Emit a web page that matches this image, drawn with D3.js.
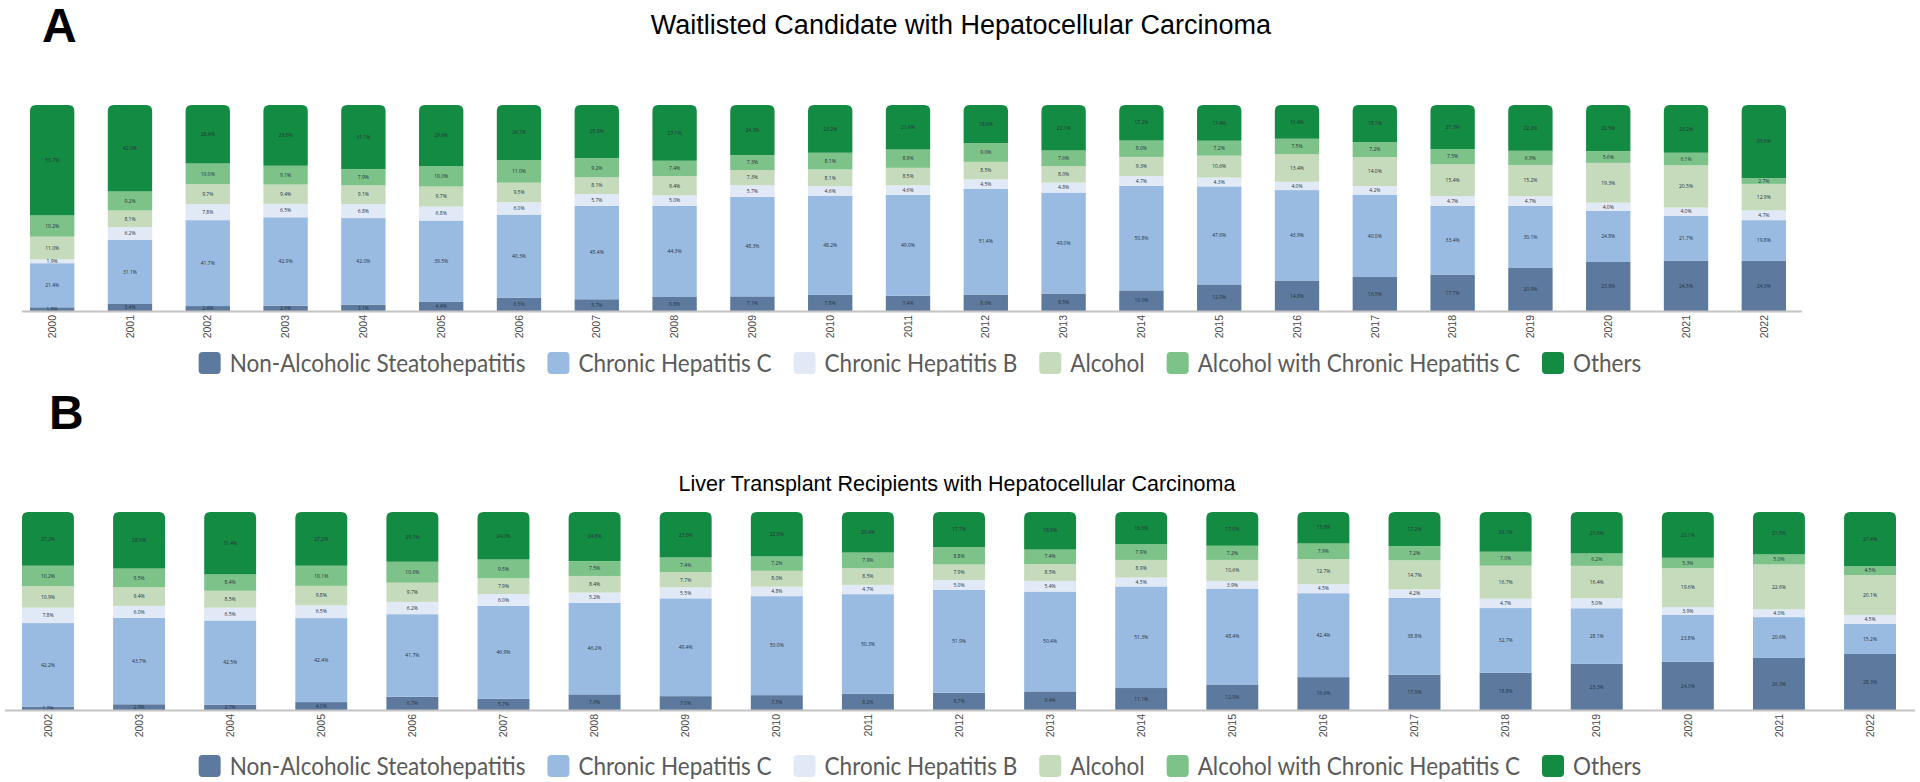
<!DOCTYPE html>
<html>
<head>
<meta charset="utf-8">
<script src="https://cdn.jsdelivr.net/npm/d3@7"></script>
<style>
  body { margin: 0; background: #fff; }
  svg { display: block; }
</style>
</head>
<body>
<div id="chart"></div>
<script>

// stacking order, bottom to top
var seriesNames = ["Non-Alcoholic Steatohepatitis", "Chronic Hepatitis C", "Chronic Hepatitis B",
    "Alcohol", "Alcohol with Chronic Hepatitis C", "Others"];
var seriesColors = ["#5d7a9e", "#99bbe1", "#e1e9f6", "#c5dbbc", "#7cc289", "#148b42"];

// Panel A - waitlisted candidates (%)
var waitYears = ["2000", "2001", "2002", "2003", "2004", "2005", "2006", "2007", "2008", "2009", "2010",
    "2011", "2012", "2013", "2014", "2015", "2016", "2017", "2018", "2019", "2020", "2021", "2022"];
var waitNash   = [1.8, 3.4, 2.4, 2.6, 3.1, 4.4, 6.5, 5.7, 6.8, 7.1, 7.8, 7.4, 8.0, 8.5, 10.0, 12.9, 14.8, 16.5, 17.7, 20.9, 23.8, 24.5, 24.3];
var waitHcv    = [21.4, 31.1, 41.7, 42.9, 42.0, 39.5, 40.3, 45.4, 44.3, 48.3, 48.2, 49.0, 51.4, 49.0, 50.8, 47.6, 43.9, 40.0, 33.4, 30.1, 24.8, 21.7, 19.8];
var waitHbv    = [1.9, 6.2, 7.8, 6.5, 6.8, 6.8, 6.0, 5.7, 5.0, 5.7, 4.6, 4.6, 4.5, 4.8, 4.7, 4.3, 4.0, 4.2, 4.7, 4.7, 4.0, 4.0, 4.7];
var waitAlc    = [11.0, 8.1, 9.7, 9.4, 9.1, 9.7, 9.5, 8.1, 9.4, 7.3, 8.1, 8.5, 8.5, 8.0, 9.3, 10.6, 13.4, 14.0, 15.4, 15.2, 19.3, 20.5, 12.9];
var waitAlcHcv = [10.2, 9.2, 10.0, 9.1, 7.9, 10.0, 11.0, 9.2, 7.4, 7.3, 8.1, 8.9, 9.0, 7.6, 8.0, 7.2, 7.5, 7.2, 7.5, 6.9, 5.6, 6.1, 2.7];
var waitOthers = [53.7, 42.0, 28.4, 29.5, 31.1, 29.6, 26.7, 25.9, 27.1, 24.3, 23.2, 21.6, 18.6, 22.1, 17.2, 17.4, 16.4, 18.1, 21.3, 22.2, 22.5, 23.2, 35.6];

// Panel B - transplant recipients (%)
var recipYears = ["2002", "2003", "2004", "2005", "2006", "2007", "2008", "2009", "2010", "2011", "2012",
    "2013", "2014", "2015", "2016", "2017", "2018", "2019", "2020", "2021", "2022"];
var recipNash   = [1.7, 2.9, 2.7, 4.0, 6.7, 5.7, 7.9, 7.0, 7.5, 8.2, 8.7, 9.4, 11.1, 12.9, 16.6, 17.9, 18.8, 23.3, 24.3, 26.3, 28.3];
var recipHcv    = [42.2, 43.7, 42.5, 42.4, 41.7, 46.9, 46.2, 49.4, 50.0, 50.3, 51.9, 50.4, 51.3, 48.4, 42.4, 38.8, 32.7, 28.1, 23.8, 20.6, 15.2];
var recipHbv    = [7.8, 6.0, 6.5, 6.5, 6.2, 6.0, 5.2, 5.5, 4.8, 4.7, 5.0, 5.4, 4.5, 3.9, 4.5, 4.2, 4.7, 5.0, 3.9, 4.0, 4.5];
var recipAlc    = [10.9, 9.4, 8.5, 9.8, 9.7, 7.9, 8.4, 7.7, 8.0, 8.5, 7.9, 8.5, 8.9, 10.6, 12.7, 14.7, 16.7, 16.4, 19.6, 22.6, 20.1];
var recipAlcHcv = [10.2, 9.5, 8.4, 10.1, 10.6, 9.5, 7.5, 7.4, 7.2, 7.9, 8.8, 7.4, 7.9, 7.2, 7.9, 7.2, 7.0, 6.2, 5.3, 5.0, 4.5];
var recipOthers = [27.2, 28.5, 31.4, 27.2, 25.1, 24.0, 24.8, 23.0, 22.5, 20.4, 17.7, 18.9, 16.3, 17.0, 15.9, 17.2, 20.1, 21.0, 23.1, 21.5, 27.4];

var width = 1920,
    height = 782;

var svg = d3.select("#chart")
    .append("svg")
    .attr("width", width)
    .attr("height", height);

var formatPct = d3.format(".1f");

function roundedTop(x, y, w, h, r) {
    r = Math.min(r, h, w / 2);
    return "M" + x + "," + (y + h) +
        "V" + (y + r) +
        "Q" + x + "," + y + " " + (x + r) + "," + y +
        "H" + (x + w - r) +
        "Q" + (x + w) + "," + y + " " + (x + w) + "," + (y + r) +
        "V" + (y + h) + "Z";
}

function drawPanel(cfg) {
    var keys = seriesNames;
    var rows = cfg.years.map(function (yr, i) {
        var row = { year: yr };
        keys.forEach(function (k, j) { row[k] = cfg.series[j][i]; });
        return row;
    });

    var x = d3.scaleBand()
        .domain(cfg.years)
        .range([cfg.barX0, cfg.barX1])
        .paddingInner(0.43)
        .paddingOuter(0);

    var y = d3.scaleLinear()
        .domain([0, 100])
        .range([cfg.bottom, cfg.top]);

    var stacked = d3.stack().keys(keys)(rows);

    var g = svg.append("g").attr("class", "panel");

    var layer = g.selectAll("g.layer")
        .data(stacked)
        .enter().append("g")
        .attr("class", "layer")
        .attr("fill", function (d, i) { return seriesColors[i]; });

    layer.each(function (ser, si) {
        var sel = d3.select(this);
        var last = si === stacked.length - 1;
        ser.forEach(function (d) {
            var x0 = x(d.data.year),
                y0 = y(d[1]),
                h = y(d[0]) - y(d[1]);
            if (last) {
                sel.append("path").attr("d", roundedTop(x0, y0, x.bandwidth(), h, 6));
            } else {
                sel.append("rect")
                    .attr("x", x0)
                    .attr("y", y0)
                    .attr("width", x.bandwidth())
                    .attr("height", h);
            }
        });
    });

    // tiny value labels inside segments
    stacked.forEach(function (ser) {
        g.append("g")
            .selectAll("text")
            .data(ser)
            .enter().append("text")
            .attr("x", function (d) { return x(d.data.year) + x.bandwidth() / 2; })
            .attr("y", function (d) { return (y(d[0]) + y(d[1])) / 2; })
            .attr("dy", "0.35em")
            .attr("text-anchor", "middle")
            .style("font-family", "'Open Sans', sans-serif")
            .style("font-size", "5px")
            .style("fill", "#26323f")
            .text(function (d) { return formatPct(d[1] - d[0]) + "%"; });
    });

    // baseline
    g.append("line")
        .attr("x1", cfg.axisX0)
        .attr("x2", cfg.axisX1)
        .attr("y1", cfg.bottom + 0.5)
        .attr("y2", cfg.bottom + 0.5)
        .attr("stroke", "#c4c4c4")
        .attr("stroke-width", 2);

    var axis = g.append("g")
        .attr("transform", "translate(0," + cfg.bottom + ")")
        .call(d3.axisBottom(x).tickSize(0));
    axis.select(".domain").remove();
    axis.selectAll("text")
        .attr("transform", "rotate(-90)")
        .attr("x", -4)
        .attr("y", 0)
        .attr("dy", "0.35em")
        .attr("text-anchor", "end")
        .style("font-family", "'Liberation Sans', Arial, sans-serif")
        .style("font-size", "10.5px")
        .style("fill", "#4a4a4a");

    // title and panel letter
    svg.append("text")
        .attr("x", cfg.titleX)
        .attr("y", cfg.titleY)
        .attr("text-anchor", "middle")
        .style("font-family", "'Liberation Sans', Arial, sans-serif")
        .style("font-size", cfg.titleSize + "px")
        .style("fill", "#000")
        .text(cfg.title);

    svg.append("text")
        .attr("x", cfg.letterX)
        .attr("y", cfg.letterY)
        .style("font-family", "'Liberation Sans', Arial, sans-serif")
        .style("font-size", "48px")
        .style("font-weight", "bold")
        .style("fill", "#000")
        .text(cfg.letter);

    // legend
    var lg = svg.append("g").attr("class", "legend");
    var swatch = 22, gapText = 9, gapItem = 22, squeeze = 0.9;
    var cx = 0;
    keys.forEach(function (k, i) {
        var item = lg.append("g");
        item.append("rect")
            .attr("x", cx)
            .attr("y", cfg.legendY - swatch / 2)
            .attr("width", swatch)
            .attr("height", swatch)
            .attr("rx", 4)
            .attr("fill", seriesColors[i]);
        var t = item.append("text")
            .attr("x", cx + swatch + gapText)
            .attr("y", cfg.legendY)
            .attr("dy", "0.36em")
            .style("font-family", "Lato, sans-serif")
            .style("font-size", "25px")
            .style("fill", "#5a5a5a")
            .text(k);
        var w = t.node().getComputedTextLength() * squeeze;
        t.attr("textLength", w).attr("lengthAdjust", "spacingAndGlyphs");
        cx += swatch + gapText + w + gapItem;
    });
    var total = cx - gapItem;
    lg.attr("transform", "translate(" + (cfg.legendCx - total / 2) + ",0)");
}

drawPanel({
    years: waitYears,
    series: [waitNash, waitHcv, waitHbv, waitAlc, waitAlcHcv, waitOthers],
    top: 105, bottom: 311,
    barX0: 30, barX1: 1786,
    axisX0: 22, axisX1: 1802,
    title: "Waitlisted Candidate with Hepatocellular Carcinoma",
    titleX: 961, titleY: 34, titleSize: 27,
    letter: "A", letterX: 42, letterY: 42,
    legendY: 363, legendCx: 920
});

drawPanel({
    years: recipYears,
    series: [recipNash, recipHcv, recipHbv, recipAlc, recipAlcHcv, recipOthers],
    top: 512, bottom: 710,
    barX0: 22, barX1: 1896,
    axisX0: 5, axisX1: 1915,
    title: "Liver Transplant Recipients with Hepatocellular Carcinoma",
    titleX: 957, titleY: 491, titleSize: 21.5,
    letter: "B", letterX: 49, letterY: 429,
    legendY: 766, legendCx: 920
});

</script>
</body>
</html>
